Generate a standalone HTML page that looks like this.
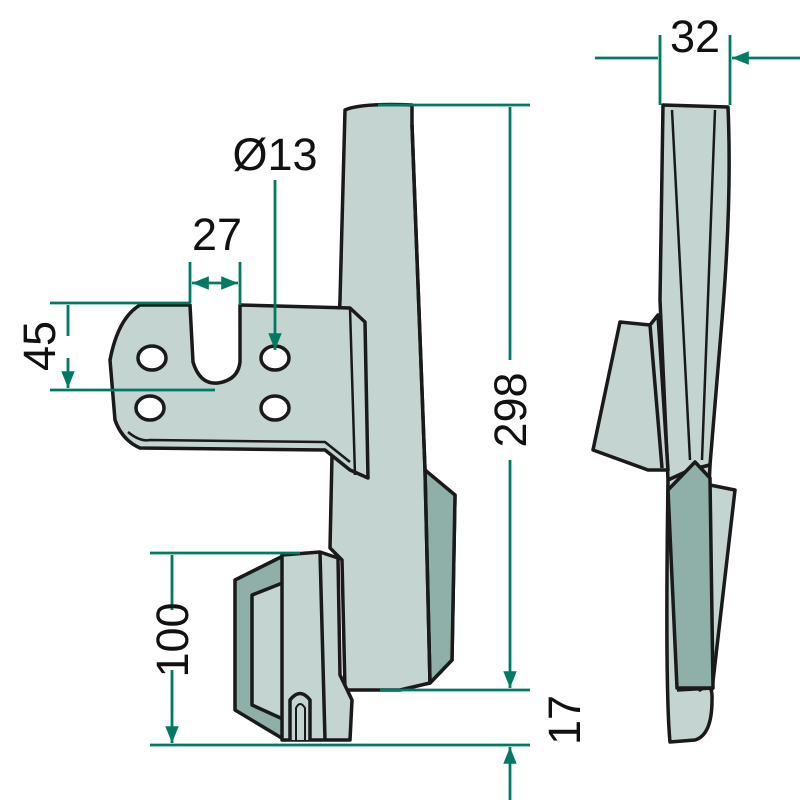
<!DOCTYPE html>
<html><head><style>body{margin:0;background:#fff}svg{display:block}text{font-family:"Liberation Sans",sans-serif;fill:#111}</style></head><body>
<svg width="800" height="800" viewBox="0 0 800 800" xmlns="http://www.w3.org/2000/svg">
<defs><marker id="a" viewBox="0 0 10 10" refX="10" refY="5" markerWidth="6" markerHeight="6" orient="auto-start-reverse"><path d="M0,1L10,5L0,9z" fill="#007a62"/></marker></defs>
<g stroke="#1a1a1a" stroke-width="3.5" stroke-linejoin="round" fill="#c3d4d1">
<path d="M345,110 Q360,103 412,105 L412,125 L425,470 L440,485 L455,495 L452,660 L430,683 L400,690 L345,690 L342,560 L330,548 L332,455 L340,300 Z"/>
<path d="M425,470 L455,495 L452,660 L430,683 Z" fill="#8fb0a8"/>
<path d="M412,125 L425,470 L430,683" fill="none"/>
<path d="M140,305 L190,305 L193,362 Q200,385 218,383 Q238,380 240,362 L240,305 L350,308 L365,322 L368,478 L350,470 L325,450 L140,448 Q122,440 115,420 L110,360 Q118,318 140,305 Z"/>
<path d="M350,308 L355,475 M128,432 Q140,442 150,440 L325,442 L350,462" fill="none" stroke-width="2.5"/>
<g fill="#fff"><ellipse cx="152" cy="358" rx="14" ry="12"/><ellipse cx="275" cy="358" rx="14" ry="12"/><ellipse cx="150" cy="408" rx="14" ry="12"/><ellipse cx="275" cy="408" rx="14" ry="12"/></g>
<path d="M235,580 L285,555 L285,740 L235,710 Z" fill="#8fb0a8"/>
<path d="M252,595 L285,582 L285,720 L252,705 Z"/>
<path d="M282,555 L320,552 L338,558 L340,675 L352,700 L350,740 L282,740 Z"/>
<path d="M320,552 L325,740" fill="none"/>
<path d="M290,740 L290,700 Q300,687 310,700 L310,740" />
<path d="M296,740 L296,708 Q300,700 305,708 L305,740" fill="none" stroke-width="2"/>
<path d="M663,105 L728,107 Q732,200 722,320 L710,465 L690,470 L668,480 L660,300 Z"/>
<path d="M690,470 L710,465 L700,690 Q713,680 712,700 Q712,735 695,740 L670,742 Q665,690 668,480 Z"/>
<path d="M710,485 L735,490 L712,690" />
<path d="M668,490 L695,462 L710,478 L713,688 L677,688 Z" fill="#8fb0a8"/>
<path d="M677,690 L713,688" fill="none"/>
<path d="M620,322 L650,325 L658,315 L668,470 L648,470 L593,450 Z"/>
<path d="M650,325 L662,468" fill="none"/>
<path d="M672,110 L690,460 M715,110 L702,460" fill="none" stroke-width="2.5"/>
</g>
<g stroke="#007a62" stroke-width="2.8" fill="none">
<path d="M378,105H530M380,690H530M150,745H530M150,553H300M50,303H190M50,390H215M190,262V303M240,262V305M660,35V105M730,35V105"/>
<path d="M510,360V107M510,460V688" marker-end="url(#a)"/>
<path d="M510,800V747" marker-end="url(#a)"/>
<path d="M172,610V555M172,670V743" marker-end="url(#a)"/>
<path d="M68,336V305M68,358V388" marker-end="url(#a)"/>
<path d="M192,283H238" marker-start="url(#a)" marker-end="url(#a)"/>
<path d="M275,180V350" marker-end="url(#a)"/>
<path d="M595,58H658M800,58H732" marker-end="url(#a)"/>
</g>
<g font-size="45">
<text x="695" y="52" text-anchor="middle">32</text>
<text x="275" y="170" text-anchor="middle">Ø13</text>
<text x="217" y="250" text-anchor="middle">27</text>
<text transform="translate(55,346) rotate(-90)" text-anchor="middle">45</text>
<text transform="translate(526,410) rotate(-90)" text-anchor="middle">298</text>
<text transform="translate(188,640) rotate(-90)" text-anchor="middle">100</text>
<text transform="translate(580,720) rotate(-90)" text-anchor="middle">17</text>
</g>
</svg>
</body></html>
